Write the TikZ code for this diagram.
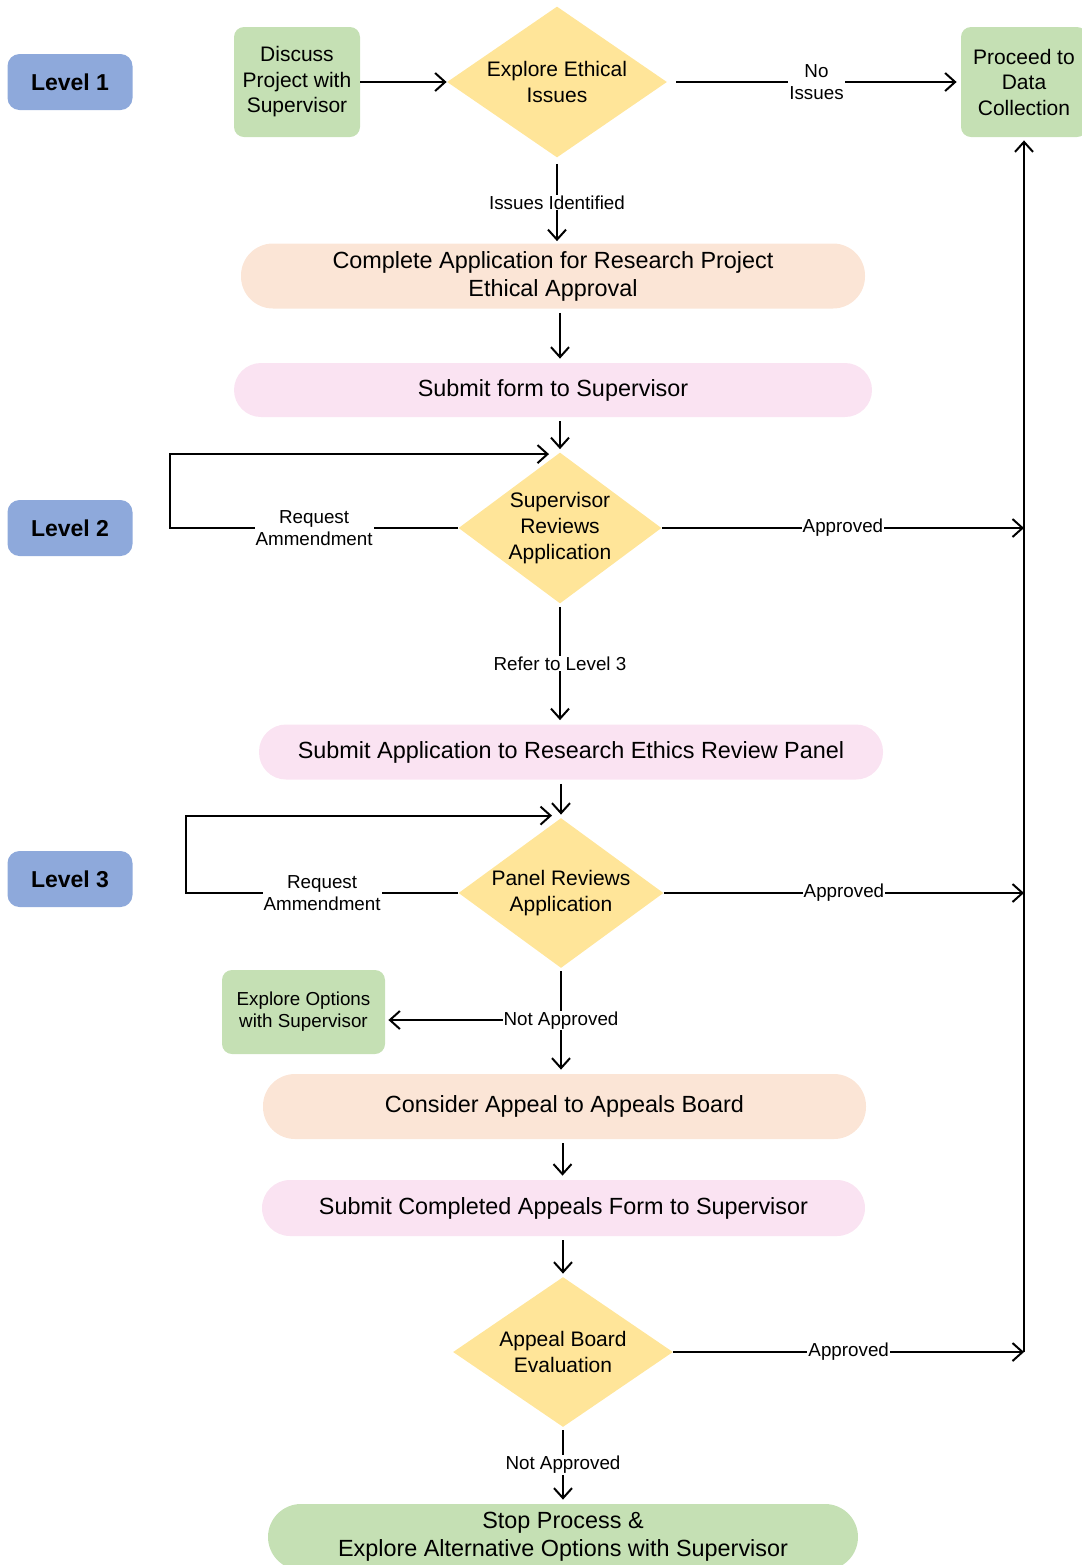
\documentclass[tikz,border=0pt]{standalone}
\usepackage{fontspec}
\setmainfont{Liberation Sans}
\usetikzlibrary{shapes.geometric,arrows.meta,calc}
\definecolor{lvlblue}{HTML}{8EA9DB}
\definecolor{gfill}{HTML}{C5E0B4}
\definecolor{yfill}{HTML}{FFE599}
\definecolor{peach}{HTML}{FBE5D6}
\definecolor{pinkf}{HTML}{FAE3F2}
\begin{document}
\begin{tikzpicture}[x=0.5pt,y=-0.5pt,
  lvl/.style={fill=lvlblue, rounded corners=6pt, minimum width=62.5pt, minimum height=28pt, inner sep=0pt, font=\fontsize{11.5}{13.8}\selectfont\bfseries},
  gbox/.style={fill=gfill, rounded corners=5pt, minimum width=63pt, minimum height=55pt, align=center, inner sep=1pt, font=\fontsize{10.5}{12.75}\selectfont},
  dec/.style={diamond, fill=yfill, inner sep=0pt, align=center, font=\fontsize{10.5}{13}\selectfont},
  stad/.style={align=center, inner sep=0pt, font=\fontsize{11.7}{14}\selectfont},
  lbl/.style={fill=white, inner sep=0.5pt, align=center, font=\fontsize{9.4}{11}\selectfont},
  arr/.style={draw, line width=1pt, -{Straight Barb[length=5pt,width=9pt]}},
  ln/.style={draw, line width=1pt}]
\useasboundingbox (0,0) rectangle (1082,1565);

% level labels
\node[lvl] (l1) at (70,82) {Level 1};
\node[lvl] (l2) at (70,528) {Level 2};
\node[lvl] (l3) at (70,879) {Level 3};

% nodes
\node[gbox] (disc) at (297,82) {Discuss\\Project with\\Supervisor};
\node[dec, minimum width=110pt, minimum height=75.5pt, aspect=1.46] (ethic) at (557,82) {Explore Ethical\\Issues};
\node[gbox] (proc) at (1024,82) {Proceed to\\Data\\Collection};
\node[stad, fill=peach, rounded corners=16pt, minimum width=312pt, minimum height=32.5pt] (comp) at (553,276) {Complete Application for Research Project\\Ethical Approval};
\node[stad, fill=pinkf, rounded corners=13.5pt, minimum width=319pt, minimum height=27pt] (subf) at (553,390) {Submit form to Supervisor};
\node[dec, minimum width=101.5pt, minimum height=75.5pt, aspect=1.34] (sup) at (560,528) {Supervisor\\Reviews\\Application};
\node[stad, fill=pinkf, rounded corners=13.5pt, minimum width=312pt, minimum height=27.5pt] (suba) at (571,752) {Submit Application to Research Ethics Review Panel};
\node[dec, minimum width=102.5pt, minimum height=75pt, aspect=1.37] (panel) at (561,893) {Panel Reviews\\Application};
\node[gbox, minimum width=81.5pt, minimum height=42pt, font=\fontsize{9.4}{11}\selectfont] (expl) at (303.5,1012) {Explore Options\\with Supervisor};
\node[stad, fill=peach, rounded corners=16pt, minimum width=301.5pt, minimum height=32.5pt] (cons) at (564.5,1106.5) {Consider Appeal to Appeals Board};
\node[stad, fill=pinkf, rounded corners=14pt, minimum width=301.5pt, minimum height=28pt] (subc) at (563.5,1208) {Submit Completed Appeals Form to Supervisor};
\node[dec, minimum width=110pt, minimum height=75pt, aspect=1.47] (appeal) at (563,1352) {Appeal Board\\Evaluation};
\node[stad, fill=gfill, rounded corners=16.5pt, minimum width=295pt, minimum height=33pt] (stop) at (563,1537) {Stop Process \&\\Explore Alternative Options with Supervisor};

% connectors, level 1
\draw[arr] (disc.east) -- (ethic.west);
\draw[arr] ([xshift=4.5pt]ethic.east) -- node[lbl]{No\\Issues} ([xshift=-2pt]proc.west);
\draw[arr] ([yshift=-3pt]ethic.south) -- node[lbl]{Issues Identified} ([yshift=1pt]ethic.south |- comp.north);
\draw[arr] ([xshift=3.5pt,yshift=-2pt]comp.south) -- ([xshift=3.5pt,yshift=2pt]subf.north);
\draw[arr] ([yshift=-2pt]subf.south -| sup.north) -- ([yshift=1.5pt]sup.north);

% level 2
\draw[arr] (sup.west) -- node[lbl]{Request\\Ammendment} ++(-288,0) |- ([xshift=-5.5pt,yshift=-1pt]sup.north);
\draw[arr] (sup.east) -- node[lbl]{Approved} (sup.east -| proc.south);
\draw[arr] ([yshift=-1.5pt]sup.south) -- node[lbl]{Refer to Level 3} ([yshift=2pt]suba.north -| sup.south);
\draw[arr] ([yshift=-2pt]suba.south -| panel.north) -- ([yshift=1.5pt]panel.north);

% level 3
\draw[arr] (panel.west) -- node[lbl]{Request\\Ammendment} ++(-272,0) |- ([xshift=-4.5pt,yshift=1pt]panel.north);
\draw[arr] (panel.east) -- node[lbl]{Approved} (panel.east -| proc.south);
\coordinate (nap) at (560,1020);
\draw[arr] (nap) -- ([xshift=1.5pt]nap -| expl.east);
\draw[arr] ([yshift=-1.5pt]panel.south) -- node[lbl]{Not Approved} ([yshift=2pt]cons.north -| panel.south);
\draw[arr] ([xshift=-1pt,yshift=-2pt]cons.south) -- ([xshift=-1pt,yshift=2pt]cons.south |- subc.north);
\draw[arr] ([yshift=-2pt]subc.south -| appeal.north) -- ([yshift=1.5pt]appeal.north);
\coordinate (vb) at (appeal.east -| proc.south);
\draw[arr] (vb) -- ([yshift=-1.5pt]proc.south);
\draw[arr] (appeal.east) -- node[lbl]{Approved} (vb);
\draw[arr] ([yshift=-1.5pt]appeal.south) -- node[lbl]{Not Approved} ([yshift=2pt]stop.north);
\end{tikzpicture}
\end{document}
